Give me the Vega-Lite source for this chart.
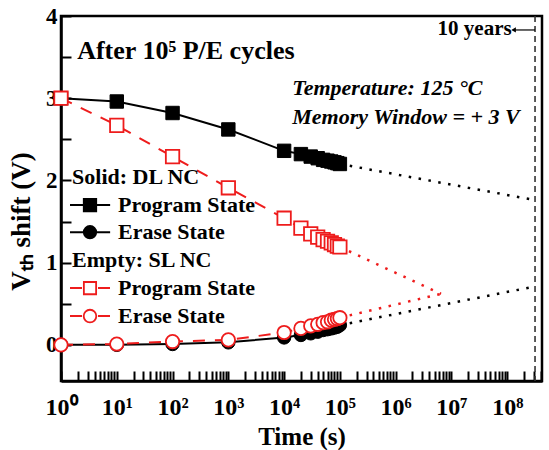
{
  "$schema": "https://vega.github.io/schema/vega-lite/v6.json",
  "width": 481,
  "height": 365,
  "autosize": {"type": "none"},
  "padding": {"left": 61, "top": 16, "right": 7, "bottom": 69},
  "background": "white",
  "config": {
    "view": {"stroke": "black", "strokeWidth": 2.5},
    "font": "Liberation Serif",
    "axis": {"grid": false},
    "text": {"font": "Liberation Serif", "fontWeight": "bold", "color": "black", "baseline": "middle"}
  },
  "datasets": {
    "retention": [
      {"cell": "DL", "state": "Program State", "t": 1, "v": 3.00},
      {"cell": "DL", "state": "Program State", "t": 10, "v": 2.96},
      {"cell": "DL", "state": "Program State", "t": 100, "v": 2.82},
      {"cell": "DL", "state": "Program State", "t": 1000, "v": 2.62},
      {"cell": "DL", "state": "Program State", "t": 10000, "v": 2.36},
      {"cell": "DL", "state": "Program State", "t": 20000, "v": 2.32},
      {"cell": "DL", "state": "Program State", "t": 30000, "v": 2.29},
      {"cell": "DL", "state": "Program State", "t": 40000, "v": 2.27},
      {"cell": "DL", "state": "Program State", "t": 50000, "v": 2.25},
      {"cell": "DL", "state": "Program State", "t": 60000, "v": 2.24},
      {"cell": "DL", "state": "Program State", "t": 70000, "v": 2.23},
      {"cell": "DL", "state": "Program State", "t": 80000, "v": 2.22},
      {"cell": "DL", "state": "Program State", "t": 90000, "v": 2.21},
      {"cell": "DL", "state": "Program State", "t": 100000, "v": 2.20},
      {"cell": "DL", "state": "Erase State", "t": 1, "v": 0.00},
      {"cell": "DL", "state": "Erase State", "t": 10, "v": 0.00},
      {"cell": "DL", "state": "Erase State", "t": 100, "v": 0.01},
      {"cell": "DL", "state": "Erase State", "t": 1000, "v": 0.03},
      {"cell": "DL", "state": "Erase State", "t": 10000, "v": 0.09},
      {"cell": "DL", "state": "Erase State", "t": 20000, "v": 0.12},
      {"cell": "DL", "state": "Erase State", "t": 30000, "v": 0.14},
      {"cell": "DL", "state": "Erase State", "t": 40000, "v": 0.16},
      {"cell": "DL", "state": "Erase State", "t": 50000, "v": 0.18},
      {"cell": "DL", "state": "Erase State", "t": 60000, "v": 0.19},
      {"cell": "DL", "state": "Erase State", "t": 70000, "v": 0.20},
      {"cell": "DL", "state": "Erase State", "t": 80000, "v": 0.21},
      {"cell": "DL", "state": "Erase State", "t": 90000, "v": 0.22},
      {"cell": "DL", "state": "Erase State", "t": 100000, "v": 0.24},
      {"cell": "SL", "state": "Program State", "t": 1, "v": 3.00},
      {"cell": "SL", "state": "Program State", "t": 10, "v": 2.67},
      {"cell": "SL", "state": "Program State", "t": 100, "v": 2.29},
      {"cell": "SL", "state": "Program State", "t": 1000, "v": 1.91},
      {"cell": "SL", "state": "Program State", "t": 10000, "v": 1.54},
      {"cell": "SL", "state": "Program State", "t": 20000, "v": 1.42},
      {"cell": "SL", "state": "Program State", "t": 30000, "v": 1.35},
      {"cell": "SL", "state": "Program State", "t": 40000, "v": 1.31},
      {"cell": "SL", "state": "Program State", "t": 50000, "v": 1.28},
      {"cell": "SL", "state": "Program State", "t": 60000, "v": 1.26},
      {"cell": "SL", "state": "Program State", "t": 70000, "v": 1.24},
      {"cell": "SL", "state": "Program State", "t": 80000, "v": 1.22},
      {"cell": "SL", "state": "Program State", "t": 90000, "v": 1.20},
      {"cell": "SL", "state": "Program State", "t": 100000, "v": 1.19},
      {"cell": "SL", "state": "Erase State", "t": 1, "v": 0.00},
      {"cell": "SL", "state": "Erase State", "t": 10, "v": 0.01},
      {"cell": "SL", "state": "Erase State", "t": 100, "v": 0.04},
      {"cell": "SL", "state": "Erase State", "t": 1000, "v": 0.06},
      {"cell": "SL", "state": "Erase State", "t": 10000, "v": 0.15},
      {"cell": "SL", "state": "Erase State", "t": 20000, "v": 0.20},
      {"cell": "SL", "state": "Erase State", "t": 30000, "v": 0.23},
      {"cell": "SL", "state": "Erase State", "t": 40000, "v": 0.25},
      {"cell": "SL", "state": "Erase State", "t": 50000, "v": 0.27},
      {"cell": "SL", "state": "Erase State", "t": 60000, "v": 0.28},
      {"cell": "SL", "state": "Erase State", "t": 70000, "v": 0.30},
      {"cell": "SL", "state": "Erase State", "t": 80000, "v": 0.31},
      {"cell": "SL", "state": "Erase State", "t": 90000, "v": 0.32},
      {"cell": "SL", "state": "Erase State", "t": 100000, "v": 0.33}
    ],
    "extrapolation": [
      {"cell": "DL", "state": "Program State", "t": 100000, "v": 2.20},
      {"cell": "DL", "state": "Program State", "t": 315000000, "v": 1.76},
      {"cell": "DL", "state": "Erase State", "t": 100000, "v": 0.24},
      {"cell": "DL", "state": "Erase State", "t": 315000000, "v": 0.71},
      {"cell": "SL", "state": "Program State", "t": 100000, "v": 1.19},
      {"cell": "SL", "state": "Program State", "t": 6500000, "v": 0.62},
      {"cell": "SL", "state": "Erase State", "t": 100000, "v": 0.33},
      {"cell": "SL", "state": "Erase State", "t": 6500000, "v": 0.62}
    ],
    "single": [{}]
  },
  "layer": [
    {
      "description": "ten-year marker",
      "data": {"name": "single"},
      "mark": {"type": "rule", "stroke": "#333333", "strokeWidth": 1.6, "strokeDash": [6, 4]},
      "encoding": {
        "x": {
          "datum": 315000000,
          "type": "quantitative",
          "scale": {"type": "log", "domain": [1, 420000000], "nice": false},
          "axis": {
            "values": [1,2,3,4,5,6,7,8,9,10,20,30,40,50,60,70,80,90,100,200,300,400,500,600,700,800,900,1000,2000,3000,4000,5000,6000,7000,8000,9000,10000,20000,30000,40000,50000,60000,70000,80000,90000,100000,200000,300000,400000,500000,600000,700000,800000,900000,1000000,2000000,3000000,4000000,5000000,6000000,7000000,8000000,9000000,10000000,20000000,30000000,40000000,50000000,60000000,70000000,80000000,90000000,100000000,200000000,300000000,400000000],
            "labelExpr": "abs(log(datum.value)/LN10 - round(log(datum.value)/LN10)) < 0.001 ? '10' + ['⁰','¹','²','³','⁴','⁵','⁶','⁷','⁸','⁹'][round(log(datum.value)/LN10)] : ''",
            "labelOverlap": false,
            "labelFlush": false,
            "labelFont": "Liberation Serif",
            "labelFontWeight": "bold",
            "labelFontSize": 24,
            "labelColor": "black",
            "labelPadding": 24,
            "tickSize": -10,
            "tickWidth": 2,
            "tickColor": "black",
            "domainColor": "black",
            "domainWidth": 2.5,
            "title": "Time (s)",
            "titleFont": "Liberation Serif",
            "titleFontWeight": "bold",
            "titleFontSize": 25,
            "titleColor": "black",
            "titleY": 55,
            "titleBaseline": "middle",
            "encode": {
              "ticks": {
                "update": {
                  "y2": {"signal": "abs(log(datum.value)/LN10 - round(log(datum.value)/LN10)) < 0.001 ? -10 : -6"}
                }
              }
            }
          }
        }
      }
    },
    {
      "description": "dotted extrapolations",
      "data": {"name": "extrapolation"},
      "mark": {"type": "line", "strokeWidth": 2.5, "strokeDash": [2.5, 7.5]},
      "encoding": {
        "x": {"field": "t", "type": "quantitative"},
        "y": {
          "field": "v",
          "type": "quantitative",
          "scale": {"domain": [-0.44, 4], "nice": false, "zero": false},
          "axis": {
            "values": [0, 0.5, 1, 1.5, 2, 2.5, 3, 3.5, 4],
            "labelExpr": "datum.value % 1 === 0 ? format(datum.value, 'd') : ''",
            "labelFont": "Liberation Serif",
            "labelFontWeight": "bold",
            "labelFontSize": 23,
            "labelColor": "black",
            "labelPadding": 14,
            "tickSize": -10,
            "tickWidth": 2,
            "tickColor": "black",
            "domainColor": "black",
            "domainWidth": 2.5,
            "title": "Vₜₕ shift (V)",
            "titleFont": "Liberation Serif",
            "titleFontWeight": "bold",
            "titleFontSize": 27,
            "titleColor": "black",
            "titleAngle": -90,
            "titleX": -40,
            "titleY": 205,
            "titleAlign": "center",
            "titleBaseline": "middle"
          }
        },
        "detail": {"field": "state"},
        "color": {
          "field": "cell",
          "type": "nominal",
          "scale": {"domain": ["DL", "SL"], "range": ["black", "#ee1c1c"]},
          "legend": null
        }
      }
    },
    {
      "description": "DL NC retention, solid",
      "data": {"name": "retention"},
      "transform": [{"filter": "datum.cell === 'DL'"}],
      "mark": {"type": "line", "stroke": "black", "strokeWidth": 2},
      "encoding": {
        "x": {"field": "t", "type": "quantitative"},
        "y": {"field": "v", "type": "quantitative"},
        "detail": {"field": "state"}
      }
    },
    {
      "data": {"name": "retention"},
      "transform": [{"filter": "datum.cell === 'DL'"}],
      "mark": {"type": "point", "filled": true, "fill": "black", "stroke": "black", "strokeWidth": 1, "size": 180, "opacity": 1},
      "encoding": {
        "x": {"field": "t", "type": "quantitative"},
        "y": {"field": "v", "type": "quantitative"},
        "shape": {
          "field": "state",
          "type": "nominal",
          "scale": {"domain": ["Program State", "Erase State"], "range": ["square", "circle"]},
          "legend": null
        }
      }
    },
    {
      "description": "SL NC retention, dashed",
      "data": {"name": "retention"},
      "transform": [{"filter": "datum.cell === 'SL'"}],
      "mark": {"type": "line", "stroke": "#ee1c1c", "strokeWidth": 2, "strokeDash": [12, 10]},
      "encoding": {
        "x": {"field": "t", "type": "quantitative"},
        "y": {"field": "v", "type": "quantitative"},
        "detail": {"field": "state"}
      }
    },
    {
      "data": {"name": "retention"},
      "transform": [{"filter": "datum.cell === 'SL'"}],
      "mark": {"type": "point", "filled": true, "fill": "white", "stroke": "#ee1c1c", "strokeWidth": 1.8, "size": 180, "opacity": 1},
      "encoding": {
        "x": {"field": "t", "type": "quantitative"},
        "y": {"field": "v", "type": "quantitative"},
        "shape": {
          "field": "state",
          "type": "nominal",
          "scale": {"domain": ["Program State", "Erase State"], "range": ["square", "circle"]},
          "legend": null
        }
      }
    },
    {
      "description": "key: DL heading",
      "data": {"name": "single"},
      "mark": {"type": "text", "text": "Solid: DL NC", "fontSize": 22, "align": "left"},
      "encoding": {"x": {"datum": 1.58, "type": "quantitative"}, "y": {"datum": 2.04, "type": "quantitative"}}
    },
    {
      "data": {"name": "single"},
      "mark": {"type": "rule", "stroke": "black", "strokeWidth": 2},
      "encoding": {"x": {"datum": 1.45, "type": "quantitative"}, "x2": {"datum": 7.6}, "y": {"datum": 1.70, "type": "quantitative"}}
    },
    {
      "data": {"name": "single"},
      "mark": {"type": "point", "shape": "square", "filled": true, "fill": "black", "stroke": "black", "size": 150, "opacity": 1},
      "encoding": {"x": {"datum": 3.31, "type": "quantitative"}, "y": {"datum": 1.70, "type": "quantitative"}}
    },
    {
      "data": {"name": "single"},
      "mark": {"type": "text", "text": "Program State", "fontSize": 22, "align": "left"},
      "encoding": {"x": {"datum": 10.5, "type": "quantitative"}, "y": {"datum": 1.70, "type": "quantitative"}}
    },
    {
      "data": {"name": "single"},
      "mark": {"type": "rule", "stroke": "black", "strokeWidth": 2},
      "encoding": {"x": {"datum": 1.45, "type": "quantitative"}, "x2": {"datum": 7.6}, "y": {"datum": 1.37, "type": "quantitative"}}
    },
    {
      "data": {"name": "single"},
      "mark": {"type": "point", "shape": "circle", "filled": true, "fill": "black", "stroke": "black", "size": 150, "opacity": 1},
      "encoding": {"x": {"datum": 3.31, "type": "quantitative"}, "y": {"datum": 1.37, "type": "quantitative"}}
    },
    {
      "data": {"name": "single"},
      "mark": {"type": "text", "text": "Erase State", "fontSize": 22, "align": "left"},
      "encoding": {"x": {"datum": 10.5, "type": "quantitative"}, "y": {"datum": 1.37, "type": "quantitative"}}
    },
    {
      "description": "key: SL heading",
      "data": {"name": "single"},
      "mark": {"type": "text", "text": "Empty: SL NC", "fontSize": 22, "align": "left"},
      "encoding": {"x": {"datum": 1.58, "type": "quantitative"}, "y": {"datum": 1.03, "type": "quantitative"}}
    },
    {
      "data": {"name": "single"},
      "mark": {"type": "rule", "stroke": "#ee1c1c", "strokeWidth": 2, "strokeDash": [12, 16]},
      "encoding": {"x": {"datum": 1.45, "type": "quantitative"}, "x2": {"datum": 7.6}, "y": {"datum": 0.69, "type": "quantitative"}}
    },
    {
      "data": {"name": "single"},
      "mark": {"type": "point", "shape": "square", "filled": true, "fill": "white", "stroke": "#ee1c1c", "strokeWidth": 1.8, "size": 150, "opacity": 1},
      "encoding": {"x": {"datum": 3.31, "type": "quantitative"}, "y": {"datum": 0.69, "type": "quantitative"}}
    },
    {
      "data": {"name": "single"},
      "mark": {"type": "text", "text": "Program State", "fontSize": 22, "align": "left"},
      "encoding": {"x": {"datum": 10.5, "type": "quantitative"}, "y": {"datum": 0.69, "type": "quantitative"}}
    },
    {
      "data": {"name": "single"},
      "mark": {"type": "rule", "stroke": "#ee1c1c", "strokeWidth": 2, "strokeDash": [12, 16]},
      "encoding": {"x": {"datum": 1.45, "type": "quantitative"}, "x2": {"datum": 7.6}, "y": {"datum": 0.35, "type": "quantitative"}}
    },
    {
      "data": {"name": "single"},
      "mark": {"type": "point", "shape": "circle", "filled": true, "fill": "white", "stroke": "#ee1c1c", "strokeWidth": 1.8, "size": 160, "opacity": 1},
      "encoding": {"x": {"datum": 3.31, "type": "quantitative"}, "y": {"datum": 0.35, "type": "quantitative"}}
    },
    {
      "data": {"name": "single"},
      "mark": {"type": "text", "text": "Erase State", "fontSize": 22, "align": "left"},
      "encoding": {"x": {"datum": 10.5, "type": "quantitative"}, "y": {"datum": 0.35, "type": "quantitative"}}
    },
    {
      "description": "ten-year pointer",
      "data": {"name": "single"},
      "mark": {"type": "rule", "stroke": "black", "strokeWidth": 1.2},
      "encoding": {
        "x": {"datum": 126000000, "type": "quantitative"},
        "x2": {"datum": 315000000},
        "y": {"datum": 3.83, "type": "quantitative"}
      }
    },
    {
      "data": {"name": "single"},
      "mark": {"type": "point", "shape": "triangle-left", "filled": true, "fill": "black", "size": 28, "opacity": 1},
      "encoding": {
        "x": {"datum": 130000000, "type": "quantitative"},
        "y": {"datum": 3.83, "type": "quantitative"}
      }
    },
    {
      "data": {"name": "single"},
      "mark": {"type": "text", "text": "10 years", "fontSize": 21, "align": "right"},
      "encoding": {
        "x": {"datum": 120000000, "type": "quantitative"},
        "y": {"datum": 3.84, "type": "quantitative"}
      }
    },
    {
      "data": {"name": "single"},
      "mark": {"type": "text", "text": "After 10⁵ P/E cycles", "fontSize": 26, "align": "left"},
      "encoding": {
        "x": {"datum": 1.95, "type": "quantitative"},
        "y": {"datum": 3.58, "type": "quantitative"}
      }
    },
    {
      "data": {"name": "single"},
      "mark": {"type": "text", "text": "Temperature: 125 °C", "fontStyle": "italic", "fontSize": 22, "align": "left"},
      "encoding": {
        "x": {"datum": 14000, "type": "quantitative"},
        "y": {"datum": 3.12, "type": "quantitative"}
      }
    },
    {
      "data": {"name": "single"},
      "mark": {"type": "text", "text": "Memory Window = + 3 V", "fontStyle": "italic", "fontSize": 22, "align": "left"},
      "encoding": {
        "x": {"datum": 14000, "type": "quantitative"},
        "y": {"datum": 2.77, "type": "quantitative"}
      }
    }
  ],
  "resolve": {"scale": {"shape": "independent"}}
}
